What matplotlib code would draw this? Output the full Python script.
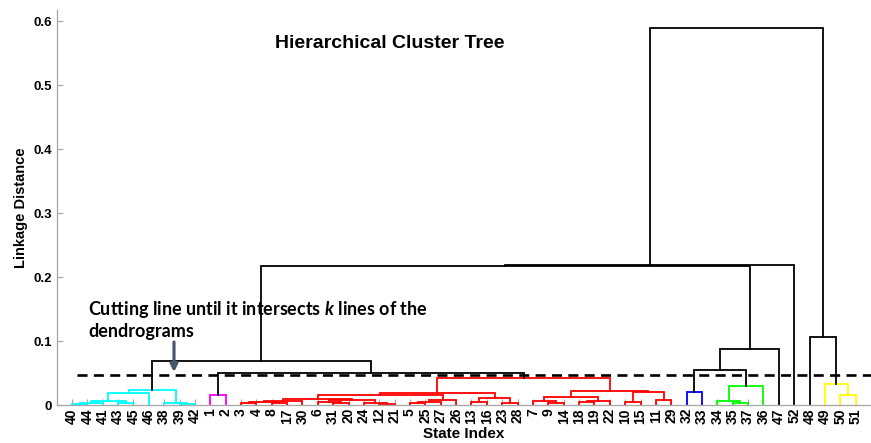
import matplotlib
matplotlib.use('Agg')
import matplotlib.pyplot as plt

plt.rcParams['font.family'] = ['Liberation Sans', 'DejaVu Sans']
plt.rcParams['font.weight'] = 'bold'
plt.rcParams['mathtext.fontset'] = 'custom'
plt.rcParams['mathtext.it'] = 'Lato:italic:bold'

# leaf order along the x axis (state index)
leaf_order = [40, 44, 41, 43, 45, 46, 38, 39, 42, 1, 2, 3, 4, 8, 17, 30, 6, 31, 20, 24,
              12, 21, 5, 25, 27, 26, 13, 16, 23, 28, 7, 9, 14, 18, 19, 22, 10, 15, 11, 29,
              32, 33, 34, 35, 37, 36, 47, 52, 48, 49, 50, 51]

# merges: (name, left, right, linkage distance); name prefix gives the cluster colour
merges = [
    ('c1', 40, 44, 0.002), ('c2', 'c1', 41, 0.004), ('c3', 43, 45, 0.003),
    ('c4', 'c2', 'c3', 0.007), ('c5', 'c4', 46, 0.020), ('c6', 39, 42, 0.002),
    ('c7', 38, 'c6', 0.003), ('c8', 'c5', 'c7', 0.024),
    ('m1', 1, 2, 0.0155),
    ('r1', 3, 4, 0.004), ('r2', 8, 17, 0.003), ('r3', 'r1', 'r2', 0.0055),
    ('r4', 'r3', 30, 0.007), ('r5', 31, 20, 0.003), ('r6', 6, 'r5', 0.006),
    ('r7', 12, 21, 0.002), ('r8', 24, 'r7', 0.004), ('r9', 'r6', 'r8', 0.0085),
    ('r10', 'r4', 'r9', 0.0103), ('r11', 5, 25, 0.003), ('r12', 'r11', 27, 0.005),
    ('r13', 'r12', 26, 0.008), ('r14', 'r10', 'r13', 0.0156), ('r15', 13, 16, 0.005),
    ('r16', 23, 28, 0.003), ('r17', 'r15', 'r16', 0.011), ('r18', 'r14', 'r17', 0.0195),
    ('r19', 9, 14, 0.004), ('r20', 7, 'r19', 0.007), ('r21', 18, 19, 0.005),
    ('r22', 'r21', 22, 0.007), ('r23', 'r20', 'r22', 0.0135), ('r24', 10, 15, 0.005),
    ('r25', 11, 29, 0.008), ('r26', 'r24', 'r25', 0.021), ('r27', 'r23', 'r26', 0.023),
    ('r28', 'r18', 'r27', 0.042),
    ('b1', 32, 33, 0.021),
    ('g1', 35, 37, 0.004), ('g2', 34, 'g1', 0.007), ('g3', 'g2', 36, 0.031),
    ('y1', 50, 51, 0.016), ('y2', 49, 'y1', 0.034),
    ('k1', 'm1', 'r28', 0.051), ('k2', 'c8', 'k1', 0.069), ('k3', 'b1', 'g3', 0.055),
    ('k4', 'k3', 47, 0.088), ('k5', 'k2', 'k4', 0.2175), ('k6', 'k5', 52, 0.219),
    ('k7', 48, 'y2', 0.107), ('k8', 'k6', 'k7', 0.590),
]

cut_height = 0.047

link_colors = {'c': '#00ffff', 'm': '#ff00ff', 'r': '#ff0000', 'b': '#0000ff',
               'g': '#00ff00', 'y': '#ffff00', 'k': '#000000'}

fig = plt.figure(figsize=(8.71, 4.43), dpi=100)
ax = fig.add_axes([0.065, 0.085, 0.935, 0.893])

pos = {leaf: i + 1 for i, leaf in enumerate(leaf_order)}
height = {leaf: 0.0 for leaf in leaf_order}
for name, a, b, h in merges:
    xa, xb = pos[a], pos[b]
    ax.plot([xa, xa, xb, xb], [height[a], h, h, height[b]],
            color=link_colors[name[0]], lw=1.3, solid_joinstyle='miter', zorder=2)
    pos[name] = (xa + xb) / 2
    height[name] = h

# cutting line
ax.hlines(cut_height, 1.33, 53, colors='black', lw=1.9,
          linestyles=(0, (3.8, 2.4)), zorder=3)

ax.annotate('', xy=(7.64, 0.052), xytext=(7.64, 0.099),
            arrowprops=dict(arrowstyle='-|>', color='#44546a', lw=2.2,
                            mutation_scale=11, shrinkA=0, shrinkB=0))
ax.text(2.04, 0.166, 'Cutting line until it intersects $k$ lines of the\ndendrograms',
        fontfamily='Lato', fontweight='bold', fontsize=13, va='top', ha='left',
        linespacing=1.2)

ax.text(21.7, 0.565, 'Hierarchical Cluster Tree', fontsize=14, fontweight='bold',
        ha='center', va='center')

ax.set_xlim(0, 53)
ax.set_ylim(0, 0.618)
ax.set_xticks(range(1, len(leaf_order) + 1))
ax.set_xticklabels([str(v) for v in leaf_order], rotation=90, fontsize=10)
ax.set_yticks([0, 0.1, 0.2, 0.3, 0.4, 0.5, 0.6])
ax.set_yticklabels(['0', '0.1', '0.2', '0.3', '0.4', '0.5', '0.6'], fontsize=9.5)
ax.tick_params(axis='both', direction='in', length=4, width=0.8, color='#a6a6a6')
ax.tick_params(axis='x', pad=2)
ax.set_xlabel('State Index', fontsize=11, fontweight='bold')
ax.xaxis.set_label_coords(0.5, -0.056)
ax.set_ylabel('Linkage Distance', fontsize=10.5, fontweight='bold', labelpad=4)

for side in ['top', 'right']:
    ax.spines[side].set_visible(False)
for side in ['left', 'bottom']:
    ax.spines[side].set_color('#a6a6a6')
    ax.spines[side].set_linewidth(0.9)

fig.savefig('out.png', dpi=100)
